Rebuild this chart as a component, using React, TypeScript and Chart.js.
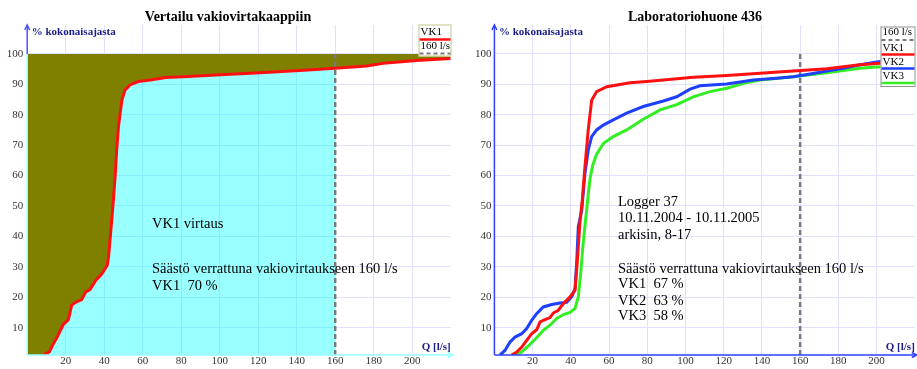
import React, { useEffect, useRef } from "react";
import { Chart, registerables } from "chart.js";
Chart.register(...registerables);

const FONT = "'Liberation Serif', 'Times New Roman', serif";

// ---------- shared axis data ----------
const ticksQ = [20, 40, 60, 80, 100, 120, 140, 160, 180, 200];
const ticksPct = [10, 20, 30, 40, 50, 60, 70, 80, 90, 100];
const Q_CONST = 160;
const Y_MIN = 1;
const Y_MAX = 109.5;
const X_MAX = 220;

// ---------- left chart: Vertailu vakiovirtakaappiin ----------
const leftTitle = "Vertailu vakiovirtakaappiin";
const leftQ = [8.4, 11.5, 13.6, 15.6, 18.8, 21.4, 23.1, 25.4, 28.3, 30.4, 32.6, 35.7, 38.7, 41.6, 42.3, 43.2, 44.2, 44.9, 45.7, 46.5, 47.4, 48.2, 49.2, 50.8, 53.4, 57.7, 64, 72, 81, 98, 120.9, 141.7, 159.9, 176.4, 185, 202.3, 220];
const leftVK1 = [1, 2, 4.7, 6.9, 11.1, 12.6, 17.4, 18.4, 19.2, 21.7, 22.5, 25.6, 27.6, 30.5, 33.5, 40, 47.5, 53, 60, 68.5, 76, 80, 84.8, 88.1, 89.8, 90.9, 91.4, 92.2, 92.5, 93.1, 93.8, 94.5, 95.3, 96, 96.9, 97.8, 98.5];
const leftNotes = ["VK1 virtaus", "Säästö verrattuna vakiovirtaukseen 160 l/s", "VK1  70 %"];

// ---------- right chart: Laboratoriohuone 436 ----------
const rightTitle = "Laboratoriohuone 436";
const rQ1 = [9, 11.7, 14.3, 16.9, 19.5, 22.1, 23.9, 26.5, 29.1, 30.8, 33.4, 36.1, 39.6, 42.2, 43.4, 44.8, 46, 47.4, 49.1, 50.9, 53.5, 58.8, 71, 79.7, 88.4, 104.1, 121.6, 139, 156.4, 173.9, 182.6, 191.3, 201.8, 220];
const rVK1 = [1, 2, 3.6, 5.8, 8, 9.3, 11.9, 12.6, 13.3, 14.8, 15.7, 17.9, 20.1, 22.3, 32, 45, 52, 63, 75, 84.8, 87.6, 89.2, 90.5, 90.9, 91.4, 92.3, 92.9, 93.6, 94.4, 95.1, 95.8, 96.4, 96.9, 97.6];
const rQ2 = [2.9, 5.5, 8.2, 10.8, 14.3, 16.9, 19.5, 22.1, 25.6, 30, 34.3, 37.8, 40.4, 42.2, 43.1, 43.9, 45.7, 47.4, 49.1, 50.9, 53.5, 57, 62.2, 69.2, 77.9, 88.4, 95.4, 102.4, 107.6, 121.6, 135.5, 147.7, 156.4, 165.2, 173.9, 182.6, 191.3, 201.8, 220];
const rVK2 = [1, 2.5, 5.3, 6.9, 8, 9.7, 12.4, 14.6, 16.8, 17.6, 18.1, 18.3, 20.1, 22.8, 32, 43.1, 48.6, 60.7, 68.4, 72.8, 75, 76.6, 78.3, 80.5, 82.7, 84.5, 85.9, 88.4, 89.5, 90.1, 91.4, 92, 92.5, 93.4, 94.4, 95.3, 96.4, 97.5, 98.2];
const rQ3 = [10.8, 14.3, 17.7, 21.2, 25.6, 29.1, 32.6, 36.1, 39.6, 42.2, 43.9, 45.2, 46.2, 47.4, 48.5, 49.3, 50.2, 51.5, 53.5, 57, 62.2, 69.2, 77.9, 86.7, 95.4, 104.1, 112.8, 121.6, 130.3, 139, 156.4, 173.9, 191.3, 201.8, 220];
const rVK3 = [1, 2, 3.9, 6.1, 9.1, 10.8, 13, 14.3, 15, 16.3, 20.1, 28, 36, 43.5, 50, 55, 59.5, 63.5, 67, 70.5, 72.8, 75, 78.5, 81.6, 83.3, 85.9, 87.6, 88.7, 90.3, 91.4, 92.5, 93.8, 95.3, 95.8, 96.5];
const rightNotes = ["Logger 37", "10.11.2004 - 10.11.2005", "arkisin, 8-17", "Säästö verrattuna vakiovirtaukseen 160 l/s", "VK1  67 %", "VK2  63 %", "VK3  58 %"];

// ---------- styles ----------
const RED = "#ff1010";
const BLUE = "#1f3fff";
const GREEN = "#33ee22";
const DASH_GRAY = "#7a7a7a";
const OLIVE = "#808000";
const CYAN_FILL = "rgba(0,255,255,0.4)";
const GRID = "#e0e0ff";
const NAVY = "#1c1c8a";
const TICK_COLOR = "#333333";

const mk = (xs: number[], ys: number[]) => xs.map((x, i) => ({ x, y: ys[i] }));

type Entry = { label: string; color: string; dash: boolean };

function scalesCfg(yWidth: number, yPad: number) {
  return {
    x: {
      type: "linear" as const,
      min: 0,
      max: X_MAX,
      afterBuildTicks: (s: any) => {
        s.ticks = ticksQ.map((v) => ({ value: v }));
      },
      afterFit: (s: any) => {
        s.height = 14;
      },
      grid: { color: GRID, drawTicks: false, lineWidth: 1 },
      border: { display: false },
      ticks: { padding: 0, autoSkip: false, maxRotation: 0, color: TICK_COLOR, font: { family: FONT, size: 11 } },
    },
    y: {
      type: "linear" as const,
      min: Y_MIN,
      max: Y_MAX,
      afterBuildTicks: (s: any) => {
        s.ticks = ticksPct.map((v) => ({ value: v }));
      },
      afterFit: (s: any) => {
        s.width = yWidth;
      },
      grid: { color: GRID, drawTicks: false, lineWidth: 1 },
      border: { display: false },
      ticks: { padding: yPad, autoSkip: false, color: TICK_COLOR, font: { family: FONT, size: 11 } },
    },
  };
}

function overlay(opts: {
  title: string;
  titleX: number;
  axisLow: string;
  axisHigh: string;
  notes: string[];
  noteX: number;
  noteYs: number[];
  legend: Entry[];
  legendBox: { x: number; y: number; w: number; h: number; border: string };
  legendRows: { textY: number; lineY: number }[];
}) {
  return {
    id: "overlay",
    afterDraw(chart: any) {
      const ctx = chart.ctx as CanvasRenderingContext2D;
      const a = chart.chartArea;
      const ys = chart.scales.y;
      const y100 = ys.getPixelForValue(100);
      ctx.save();
      // axes
      ctx.lineWidth = 1.5;
      ctx.strokeStyle = opts.axisLow;
      ctx.beginPath();
      ctx.moveTo(a.left, a.bottom);
      ctx.lineTo(a.left, y100);
      ctx.moveTo(a.left, a.bottom);
      ctx.lineTo(a.right + 2, a.bottom);
      ctx.stroke();
      // x arrow
      ctx.beginPath();
      ctx.moveTo(a.right - 3, a.bottom - 2.5);
      ctx.lineTo(a.right + 2, a.bottom);
      ctx.lineTo(a.right - 3, a.bottom + 2.5);
      ctx.stroke();
      ctx.strokeStyle = opts.axisHigh;
      ctx.beginPath();
      ctx.moveTo(a.left, y100);
      ctx.lineTo(a.left, a.top);
      ctx.stroke();
      ctx.beginPath();
      ctx.moveTo(a.left - 2.5, a.top + 5);
      ctx.lineTo(a.left, a.top);
      ctx.lineTo(a.left + 2.5, a.top + 5);
      ctx.stroke();

      // title
      ctx.fillStyle = "#000";
      ctx.font = `bold 14px ${FONT}`;
      ctx.textAlign = "center";
      ctx.textBaseline = "alphabetic";
      ctx.fillText(opts.title, opts.titleX, 21);

      // axis titles
      ctx.fillStyle = NAVY;
      ctx.font = `bold 11px ${FONT}`;
      ctx.textAlign = "left";
      ctx.textBaseline = "middle";
      ctx.fillText("% kokonaisajasta", a.left + 4.5, 32);
      ctx.textAlign = "right";
      ctx.fillText("Q [l/s]", a.right, 347);

      // notes
      ctx.fillStyle = "#000";
      ctx.font = `14.5px ${FONT}`;
      ctx.textAlign = "left";
      ctx.textBaseline = "middle";
      opts.notes.forEach((t, i) => ctx.fillText(t, opts.noteX, opts.noteYs[i]));

      // legend
      const b = opts.legendBox;
      ctx.fillStyle = "#fff";
      ctx.fillRect(b.x, b.y, b.w, b.h);
      ctx.lineWidth = 1;
      ctx.strokeStyle = b.border;
      ctx.strokeRect(b.x + 0.5, b.y + 0.5, b.w - 1, b.h - 1);
      ctx.font = `11px ${FONT}`;
      ctx.textAlign = "left";
      ctx.textBaseline = "middle";
      opts.legend.forEach((e, i) => {
        const r = opts.legendRows[i];
        ctx.fillStyle = "#000";
        ctx.fillText(e.label, b.x + 2, r.textY);
        ctx.strokeStyle = e.color;
        ctx.lineWidth = e.dash ? 2 : 2.5;
        ctx.setLineDash(e.dash ? [4, 3] : []);
        ctx.beginPath();
        ctx.moveTo(b.x + 1, r.lineY);
        ctx.lineTo(b.x + b.w - 1, r.lineY);
        ctx.stroke();
      });
      ctx.setLineDash([]);
      ctx.restore();
    },
  };
}

function LeftChart() {
  const ref = useRef<HTMLCanvasElement>(null);
  useEffect(() => {
    const pts = mk(leftQ, leftVK1);
    const olivePts = [{ x: 0, y: Y_MIN }, ...pts];
    const below = pts.filter((p) => p.x <= Q_CONST);
    const cyanPts = [...below, { x: Q_CONST, y: below[below.length - 1].y }];
    const chart = new Chart(ref.current!, {
      type: "line",
      data: {
        datasets: [
          { label: "VK1", data: pts, borderColor: RED, borderWidth: 3, pointRadius: 0, fill: false, tension: 0 },
          { label: "160 l/s", data: [{ x: Q_CONST, y: Y_MIN }, { x: Q_CONST, y: 100 }], borderColor: DASH_GRAY, borderWidth: 2.5, borderDash: [5, 3], pointRadius: 0, fill: false },
          { label: "cyan", data: cyanPts, borderWidth: 0, pointRadius: 0, backgroundColor: CYAN_FILL, fill: "start" },
          { label: "olive", data: olivePts, borderWidth: 0, pointRadius: 0, backgroundColor: OLIVE, fill: { value: 100 } },
        ],
      },
      options: {
        animation: false,
        responsive: false,
        devicePixelRatio: 1,
        parsing: false,
        layout: { padding: { left: 0, top: 25, right: 9.3, bottom: 0 } },
        plugins: { legend: { display: false }, tooltip: { enabled: false } },
        scales: scalesCfg(27.2, 4) as any,
      },
      plugins: [
        overlay({
          title: leftTitle,
          titleX: 228,
          axisLow: "#99ffff",
          axisHigh: "#5050ff",
          notes: leftNotes,
          noteX: 152,
          noteYs: [224, 269, 285.7],
          legend: [
            { label: "VK1", color: RED, dash: false },
            { label: "160 l/s", color: DASH_GRAY, dash: true },
          ],
          legendBox: { x: 418.5, y: 24.5, w: 33, h: 32, border: "#c4c48a" },
          legendRows: [
            { textY: 32, lineY: 39.5 },
            { textY: 46.5, lineY: 53.5 },
          ],
        }) as any,
      ],
    });
    return () => chart.destroy();
  }, []);
  return <canvas ref={ref} width={460} height={369} style={{ position: "absolute", left: 0, top: 0, width: 460, height: 369 }} />;
}

function RightChart() {
  const ref = useRef<HTMLCanvasElement>(null);
  useEffect(() => {
    const chart = new Chart(ref.current!, {
      type: "line",
      data: {
        datasets: [
          { label: "VK1", data: mk(rQ1, rVK1), borderColor: RED, borderWidth: 3, pointRadius: 0, fill: false, tension: 0 },
          { label: "VK2", data: mk(rQ2, rVK2), borderColor: BLUE, borderWidth: 3, pointRadius: 0, fill: false, tension: 0 },
          { label: "VK3", data: mk(rQ3, rVK3), borderColor: GREEN, borderWidth: 3, pointRadius: 0, fill: false, tension: 0 },
          { label: "160 l/s", data: [{ x: Q_CONST, y: Y_MIN }, { x: Q_CONST, y: 100 }], borderColor: DASH_GRAY, borderWidth: 2.5, borderDash: [5, 3], pointRadius: 0, fill: false },
        ],
      },
      options: {
        animation: false,
        responsive: false,
        devicePixelRatio: 1,
        parsing: false,
        layout: { padding: { left: 0, top: 25, right: 2.2, bottom: 0 } },
        plugins: { legend: { display: false }, tooltip: { enabled: false } },
        scales: scalesCfg(34.4, 3) as any,
      },
      plugins: [
        overlay({
          title: rightTitle,
          titleX: 235,
          axisLow: "#3040ff",
          axisHigh: "#3040ff",
          notes: rightNotes,
          noteX: 158,
          noteYs: [202, 218.3, 235, 269, 284.5, 301, 316.5],
          legend: [
            { label: "160 l/s", color: DASH_GRAY, dash: true },
            { label: "VK1", color: RED, dash: false },
            { label: "VK2", color: BLUE, dash: false },
            { label: "VK3", color: GREEN, dash: false },
          ],
          legendBox: { x: 420.5, y: 26.5, w: 35, h: 60.5, border: "#909090" },
          legendRows: [
            { textY: 32, lineY: 40 },
            { textY: 48, lineY: 54.5 },
            { textY: 62, lineY: 68.5 },
            { textY: 76, lineY: 83 },
          ],
        }) as any,
      ],
    });
    return () => chart.destroy();
  }, []);
  return <canvas ref={ref} width={457} height={369} style={{ position: "absolute", left: 460, top: 0, width: 457, height: 369 }} />;
}

export default function App() {
  return (
    <div style={{ position: "fixed", left: 0, top: 0, width: 917, height: 369, background: "#fff", overflow: "hidden" }}>
      <LeftChart />
      <RightChart />
    </div>
  );
}
